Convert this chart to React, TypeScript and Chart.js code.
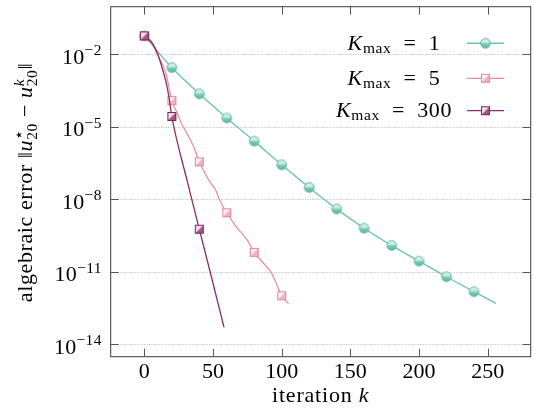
import React, { useEffect, useRef } from 'react';
import { Chart, registerables } from 'chart.js';

Chart.register(...registerables);

// ---- data ----
const kmaxLabels = ['1', '5', '300'];

const iter1 = [0, 20, 40, 60, 80, 100, 120, 140, 160, 180, 200, 220, 240, 256];
const err1 = [5.89e-2, 2.88e-3, 2.34e-4, 2.34e-5, 2.57e-6, 2.69e-7, 3.09e-8, 3.98e-9, 6.31e-10, 1.23e-10, 2.75e-11, 6.17e-12, 1.48e-12, 4.9e-13];

const iter5 = [0, 5, 9, 12, 16, 18, 20, 24, 27, 31, 36, 40, 47, 52, 55, 60, 67, 75, 80, 88, 92, 95, 100, 105];
const err5 = [5.89e-2, 3.55e-2, 1.12e-2, 5.13e-3, 1.45e-3, 3.98e-4, 1.23e-4, 3.63e-5, 1.38e-5, 5.37e-6, 1.48e-6, 3.55e-7, 6.17e-8, 2.34e-8, 8.91e-9, 2.75e-9, 7.24e-10, 2.04e-10, 6.31e-11, 1.86e-11, 1.0e-11, 4.47e-12, 1.0e-12, 4.68e-13];

const iter300 = [0, 6, 10, 13, 16, 18, 20, 31, 40, 49, 58];
const err300 = [5.89e-2, 2.82e-2, 9.55e-3, 2.69e-3, 6.31e-4, 1.58e-4, 2.69e-5, 6.31e-8, 5.75e-10, 5.62e-12, 4.9e-14];

const markerEvery = 20;

const xTicks = [0, 50, 100, 150, 200, 250];
const yTickExponents = [-2, -5, -8, -11, -14];
const X_MIN = -24.5;
const X_MAX = 281.3;
const Y_MIN = 3.09e-15;
const Y_MAX = 0.953;

// ---- styles ----
const FAMILY = '"Liberation Serif", "DejaVu Serif", serif';
const F_MAIN = `22px ${FAMILY}`;
const F_IT = `italic 22px ${FAMILY}`;
const F_SMALL = `15.5px ${FAMILY}`;
const F_SMALL_IT = `italic 15.5px ${FAMILY}`;

const TEAL = '#6cc4b0';
const PINK = '#e68a9c';
const PURPLE = '#8c2c62';

type Run = { text: string; font: string; dy?: number };
type Piece = Run | { sup: Run; sub: Run };

function pieceWidth(ctx: CanvasRenderingContext2D, p: Piece): number {
  if ('sup' in p) {
    ctx.font = p.sup.font;
    const a = ctx.measureText(p.sup.text).width;
    ctx.font = p.sub.font;
    const b = ctx.measureText(p.sub.text).width;
    return Math.max(a, b);
  }
  ctx.font = p.font;
  return ctx.measureText(p.text).width;
}

function drawPieces(ctx: CanvasRenderingContext2D, pieces: Piece[], x: number, y: number, align: 'left' | 'center' | 'right', spacing = 0) {
  const c: any = ctx;
  c.letterSpacing = spacing + 'px';
  const widths = pieces.map((p) => pieceWidth(ctx, p));
  const total = widths.reduce((s, w) => s + w, 0);
  let cx = align === 'center' ? x - total / 2 : align === 'right' ? x - total : x;
  ctx.textAlign = 'left';
  ctx.textBaseline = 'alphabetic';
  pieces.forEach((p, i) => {
    if ('sup' in p) {
      ctx.font = p.sup.font;
      ctx.fillText(p.sup.text, cx, y + (p.sup.dy || 0));
      ctx.font = p.sub.font;
      ctx.fillText(p.sub.text, cx, y + (p.sub.dy || 0));
    } else {
      ctx.font = p.font;
      ctx.fillText(p.text, cx, y + (p.dy || 0));
    }
    cx += widths[i];
  });
  c.letterSpacing = '0px';
}

function circleMarker(): HTMLCanvasElement {
  const c = document.createElement('canvas');
  c.width = 13;
  c.height = 13;
  const g = c.getContext('2d')!;
  const grad = g.createLinearGradient(0, 1.5, 0, 11.5);
  grad.addColorStop(0, '#eaf7f3');
  grad.addColorStop(0.45, '#bfe6dc');
  grad.addColorStop(0.55, '#78c9b5');
  grad.addColorStop(1, '#5fb9a3');
  g.beginPath();
  g.arc(6.5, 6.5, 4.8, 0, Math.PI * 2);
  g.fillStyle = grad;
  g.fill();
  g.lineWidth = 1;
  g.strokeStyle = '#56b39c';
  g.stroke();
  return c;
}

function squareMarker(stroke: string, fill: string, light: string): HTMLCanvasElement {
  const c = document.createElement('canvas');
  c.width = 11;
  c.height = 11;
  const g = c.getContext('2d')!;
  const a = 1.5;
  const b = 9.5;
  g.fillStyle = light;
  g.fillRect(a, a, b - a, b - a);
  g.beginPath();
  g.moveTo(b, a);
  g.lineTo(b, b);
  g.lineTo(a, b);
  g.closePath();
  g.fillStyle = fill;
  g.fill();
  g.lineWidth = 1;
  g.strokeStyle = stroke;
  g.strokeRect(a, a, b - a, b - a);
  return c;
}

const decorPlugin = {
  id: 'decor',
  beforeDatasetsDraw(chart: any) {
    const { ctx, chartArea: a } = chart;
    const ys = chart.scales.y;
    ctx.save();
    ctx.strokeStyle = '#b8b8b8';
    ctx.lineWidth = 1;
    ctx.setLineDash([1, 1.4]);
    yTickExponents.forEach((e) => {
      const py = Math.round(ys.getPixelForValue(Math.pow(10, e))) + 0.5;
      ctx.beginPath();
      ctx.moveTo(a.left, py);
      ctx.lineTo(a.right, py);
      ctx.stroke();
    });
    ctx.restore();
  },
  afterDatasetsDraw(chart: any) {
    const { ctx, chartArea: a } = chart;
    const xs = chart.scales.x;
    const ys = chart.scales.y;
    ctx.save();
    // frame
    ctx.strokeStyle = '#3a3a3a';
    ctx.lineWidth = 1;
    ctx.setLineDash([]);
    ctx.strokeRect(a.left, a.top, a.right - a.left, a.bottom - a.top);
    // inside ticks
    const TL = 8;
    ctx.strokeStyle = '#555';
    xTicks.forEach((v) => {
      const px = Math.round(xs.getPixelForValue(v)) + 0.5;
      ctx.beginPath();
      ctx.moveTo(px, a.bottom);
      ctx.lineTo(px, a.bottom - TL);
      ctx.moveTo(px, a.top);
      ctx.lineTo(px, a.top + TL);
      ctx.stroke();
    });
    yTickExponents.forEach((e) => {
      const py = Math.round(ys.getPixelForValue(Math.pow(10, e))) + 0.5;
      ctx.beginPath();
      ctx.moveTo(a.left, py);
      ctx.lineTo(a.left + TL, py);
      ctx.moveTo(a.right, py);
      ctx.lineTo(a.right - TL, py);
      ctx.stroke();
    });
    // y tick labels
    ctx.fillStyle = '#000';
    yTickExponents.forEach((e) => {
      const py = ys.getPixelForValue(Math.pow(10, e));
      drawPieces(ctx, [
        { text: '10', font: F_MAIN },
        { text: '\u2212' + Math.abs(e), font: F_SMALL, dy: -8.5 },
      ], a.left - 9, py + 9.5, 'right', 0.3);
    });
    // x title
    drawPieces(ctx, [
      { text: 'iteration ', font: F_MAIN },
      { text: 'k', font: F_IT },
    ], (a.left + a.right) / 2, 401.5, 'center', 0.8);
    // y title
    ctx.save();
    ctx.translate(31.5, 182.5);
    ctx.rotate(-Math.PI / 2);
    drawPieces(ctx, [
      { text: 'algebraic error ', font: F_MAIN },
      { text: '\u2016', font: F_MAIN },
      { text: 'u', font: F_IT },
      { sup: { text: '\u22c6', font: F_SMALL, dy: -8 }, sub: { text: '20', font: F_SMALL, dy: 5 } },
      { text: ' \u2212 ', font: F_MAIN },
      { text: 'u', font: F_IT },
      { sup: { text: 'k', font: F_SMALL_IT, dy: -8 }, sub: { text: '20', font: F_SMALL, dy: 5 } },
      { text: '\u2016', font: F_MAIN },
    ], 0, 0, 'center', 0.6);
    ctx.restore();
    // legend
    const rows = [43.3, 78.3, 110.7];
    chart.data.datasets.forEach((ds: any, i: number) => {
      const ly = rows[i];
      drawPieces(ctx, [
        { text: 'K', font: F_IT },
        { text: 'max', font: F_SMALL, dy: 3 },
        { text: '  =  ' + kmaxLabels[i], font: F_MAIN },
      ], 394, ly + 6.5, 'center', 0.6);
      ctx.strokeStyle = ds.borderColor;
      ctx.lineWidth = ds.borderWidth;
      ctx.beginPath();
      ctx.moveTo(467, ly);
      ctx.lineTo(504, ly);
      ctx.stroke();
      const img = ds.pointStyle as HTMLCanvasElement;
      ctx.drawImage(img, 485.5 - img.width / 2, ly - img.height / 2);
    });
    ctx.restore();
  },
};

export default function App() {
  const ref = useRef<HTMLCanvasElement | null>(null);
  useEffect(() => {
    const canvas = ref.current;
    if (!canvas) return;
    const isMarker = (c: any) => c.raw && c.raw.x % markerEvery === 0;
    const mk = (xs: number[], ys: number[]) => xs.map((x, i) => ({ x, y: ys[i] }));
    const chart = new Chart(canvas, {
      type: 'line',
      data: {
        datasets: [
          {
            label: 'K_max = ' + kmaxLabels[0],
            data: mk(iter1, err1),
            borderColor: TEAL,
            borderWidth: 1.4,
            pointStyle: circleMarker(),
            pointRadius: (c: any) => (isMarker(c) ? 5 : 0),
            cubicInterpolationMode: 'monotone',
            order: 3,
          },
          {
            label: 'K_max = ' + kmaxLabels[1],
            data: mk(iter5, err5),
            borderColor: PINK,
            borderWidth: 1.2,
            pointStyle: squareMarker('#e2879a', '#eeb3bf', '#fbeef1'),
            pointRadius: (c: any) => (isMarker(c) ? 5 : 0),
            cubicInterpolationMode: 'monotone',
            order: 2,
          },
          {
            label: 'K_max = ' + kmaxLabels[2],
            data: mk(iter300, err300),
            borderColor: PURPLE,
            borderWidth: 1.3,
            pointStyle: squareMarker('#7f2456', '#a25680', '#efdde7'),
            pointRadius: (c: any) => (isMarker(c) ? 5 : 0),
            cubicInterpolationMode: 'monotone',
            order: 1,
          },
        ] as any,
      },
      options: {
        animation: false,
        responsive: false,
        devicePixelRatio: 1,
        layout: { padding: { left: 0, right: 9.3, top: 6.7, bottom: 0 } },
        plugins: { legend: { display: false }, tooltip: { enabled: false } },
        scales: {
          x: {
            type: 'linear',
            min: X_MIN,
            max: X_MAX,
            afterBuildTicks: (s: any) => {
              s.ticks = xTicks.map((v) => ({ value: v }));
            },
            afterFit: (s: any) => {
              s.height = 417 - 356.7;
            },
            grid: { display: false },
            border: { display: false },
            ticks: {
              color: '#000',
              font: { family: FAMILY, size: 22 },
              padding: -6,
              maxRotation: 0,
              autoSkip: false,
              callback: (v: any) => String(v),
            },
          },
          y: {
            type: 'logarithmic',
            min: Y_MIN,
            max: Y_MAX,
            afterBuildTicks: (s: any) => {
              s.ticks = yTickExponents.map((e) => ({ value: Math.pow(10, e) }));
            },
            afterFit: (s: any) => {
              s.width = 110.7;
            },
            grid: { display: false },
            border: { display: false },
            ticks: { display: false },
          },
        },
      } as any,
      plugins: [decorPlugin],
    });
    return () => chart.destroy();
  }, []);
  return (
    <div style={{ position: 'absolute', left: 0, top: 0, width: 540, height: 417, background: '#fff' }}>
      <canvas ref={ref} width={540} height={417} style={{ display: 'block', width: 540, height: 417 }} />
    </div>
  );
}
